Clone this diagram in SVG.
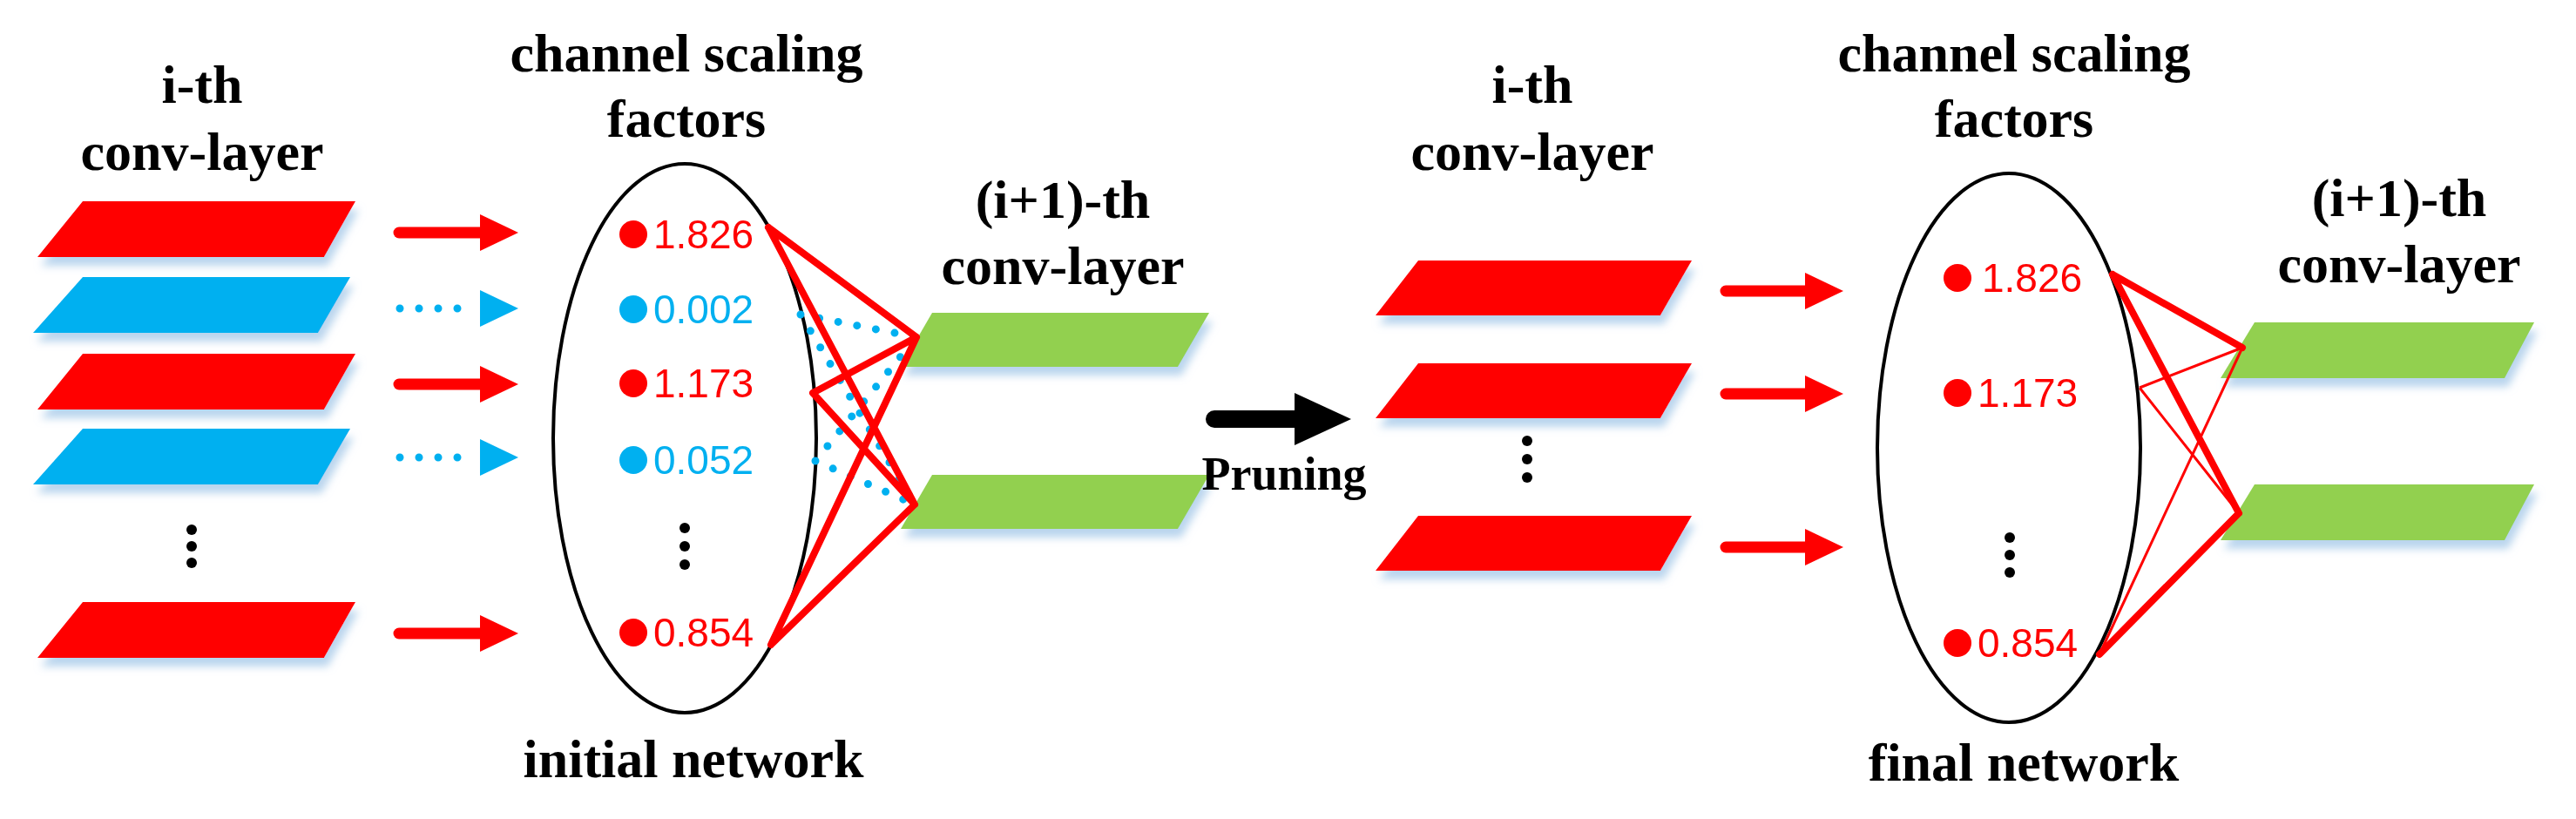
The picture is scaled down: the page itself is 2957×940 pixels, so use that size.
<svg xmlns="http://www.w3.org/2000/svg" width="2957" height="940" viewBox="0 0 2957 940">
<defs>
<filter id="sh" x="-10%" y="-30%" width="120%" height="180%"><feDropShadow dx="4" dy="10" stdDeviation="5" flood-color="#9dc3e6" flood-opacity="0.7"/></filter>
<polygon id="pr" points="95,0 408,0 372,64 43,64"/>
<polygon id="pb" points="95,0 402,0 365,64 38,64"/>
<polygon id="pg" points="1070,0 1388,0 1352,62 1034,62"/>
<polygon id="prr" points="1628,0 1942,0 1906,63 1579,63"/>
<polygon id="pgr" points="2588,0 2909,0 2875,64 2549,64"/>
</defs>
<style>
.t{font-family:"Liberation Serif",serif;font-weight:bold;font-size:62px;text-anchor:middle;fill:#000}
.v{font-family:"Liberation Sans",Arial,sans-serif;font-size:46px}
.r{fill:#ff0000}.b{fill:#00b0f0}.g{fill:#92d050}
.ln{stroke:#ff0000;stroke-width:8;fill:none;stroke-linecap:round}
.thin{stroke:#ff0000;stroke-width:3;fill:none}
.dl{stroke:#00b0f0;stroke-width:9;stroke-dasharray:0 22;stroke-linecap:round;fill:none}
.sh{stroke:#ff0000;stroke-width:13;stroke-linecap:round}
.el{fill:none;stroke:#000;stroke-width:4}
</style>
<g id="titles">
<text class="t" x="232" y="118">i-th</text>
<text class="t" x="232" y="195">conv-layer</text>
<text class="t" x="788" y="82">channel scaling</text>
<text class="t" x="788" y="157">factors</text>
<text class="t" x="1220" y="250">(i+1)-th</text>
<text class="t" x="1220" y="326">conv-layer</text>
<text class="t" x="796" y="892">initial network</text>
<text class="t" x="1759" y="118">i-th</text>
<text class="t" x="1759" y="195">conv-layer</text>
<text class="t" x="2312" y="82">channel scaling</text>
<text class="t" x="2312" y="157">factors</text>
<text class="t" x="2754" y="248">(i+1)-th</text>
<text class="t" x="2754" y="324">conv-layer</text>
<text class="t" x="2323" y="896">final network</text>
</g>
<g id="left-layer" filter="url(#sh)">
<use href="#pr" class="r" y="231"/>
<use href="#pb" class="b" y="318"/>
<use href="#pr" class="r" y="406"/>
<use href="#pb" class="b" y="492"/>
<use href="#pr" class="r" y="691"/>
</g>
<g id="left-dots"><circle cx="220" cy="608" r="6"/><circle cx="220" cy="627" r="6"/><circle cx="220" cy="646" r="6"/></g>
<g id="left-scaling">
<ellipse class="el" cx="786" cy="503" rx="151" ry="315"/>
<circle class="r" cx="727" cy="269" r="16"/><text class="v r" x="750" y="285">1.826</text>
<circle class="b" cx="727" cy="355" r="16"/><text class="v b" x="750" y="371">0.002</text>
<circle class="r" cx="727" cy="440" r="16"/><text class="v r" x="750" y="456">1.173</text>
<circle class="b" cx="727" cy="528" r="16"/><text class="v b" x="750" y="544">0.052</text>
<circle cx="786" cy="606" r="6"/><circle cx="786" cy="627" r="6"/><circle cx="786" cy="648" r="6"/>
<circle class="r" cx="727" cy="726" r="16"/><text class="v r" x="750" y="742">0.854</text>
</g>
<g id="left-next" filter="url(#sh)">
<use href="#pg" class="g" y="359"/>
<use href="#pg" class="g" y="545"/>
</g>
<g id="right-layer" filter="url(#sh)">
<use href="#prr" class="r" y="299"/>
<use href="#prr" class="r" y="417"/>
<use href="#prr" class="r" y="592"/>
</g>
<g id="right-dots"><circle cx="1753" cy="506" r="6"/><circle cx="1753" cy="527" r="6"/><circle cx="1753" cy="548" r="6"/></g>
<g id="right-scaling">
<ellipse class="el" cx="2306" cy="514" rx="151" ry="315"/>
<circle class="r" cx="2247" cy="319" r="16"/><text class="v r" x="2275" y="335">1.826</text>
<circle class="r" cx="2247" cy="451" r="16"/><text class="v r" x="2270" y="467">1.173</text>
<circle cx="2307" cy="617" r="6"/><circle cx="2307" cy="637" r="6"/><circle cx="2307" cy="657" r="6"/>
<circle class="r" cx="2247" cy="738" r="16"/><text class="v r" x="2270" y="754">0.854</text>
</g>
<g id="right-next" filter="url(#sh)">
<use href="#pgr" class="g" y="370"/>
<use href="#pgr" class="g" y="556"/>
</g>
<g id="connectors">
<g class="r">
<line class="sh" x1="458" y1="267" x2="556" y2="267"/><polygon points="551,246 595,267 551,288"/>
<line class="sh" x1="458" y1="441" x2="556" y2="441"/><polygon points="551,420 595,441 551,462"/>
<line class="sh" x1="458" y1="727" x2="556" y2="727"/><polygon points="551,706 595,727 551,748"/>
<line class="sh" x1="1981" y1="334" x2="2076" y2="334"/><polygon points="2072,313 2116,334 2072,355"/>
<line class="sh" x1="1981" y1="452" x2="2076" y2="452"/><polygon points="2072,431 2116,452 2072,473"/>
<line class="sh" x1="1981" y1="628" x2="2076" y2="628"/><polygon points="2072,607 2116,628 2072,649"/>
</g>
<g class="b">
<path class="dl" d="M459,354 H545"/><polygon points="551,333 595,354 551,375"/>
<path class="dl" d="M459,525 H545"/><polygon points="551,504 595,525 551,546"/>
</g>
<path class="dl" d="M919,361 L1052,387 M919,361 L1050,579 M936,529 L1052,387 M936,529 L1050,579"/>
<path class="ln" d="M882,261 L1052,387 M882,261 L1050,579 M933,451 L1052,387 M933,451 L1050,579 M885,740 L1052,387 M885,740 L1050,579"/>
<path class="ln" d="M2425,315 L2574,399 M2425,315 L2570,589 M2410,751 L2570,589"/>
<path class="thin" d="M2456,445 L2574,399 M2456,445 L2570,589 M2410,751 L2574,399"/>
<g id="pruning">
<line x1="1394" y1="481" x2="1490" y2="481" stroke="#000" stroke-width="20" stroke-linecap="round"/>
<polygon points="1486,451 1551,481 1486,511" fill="#000"/>
<text class="t" x="1474" y="562" style="font-size:54px">Pruning</text>
</g>
</g>
</svg>
